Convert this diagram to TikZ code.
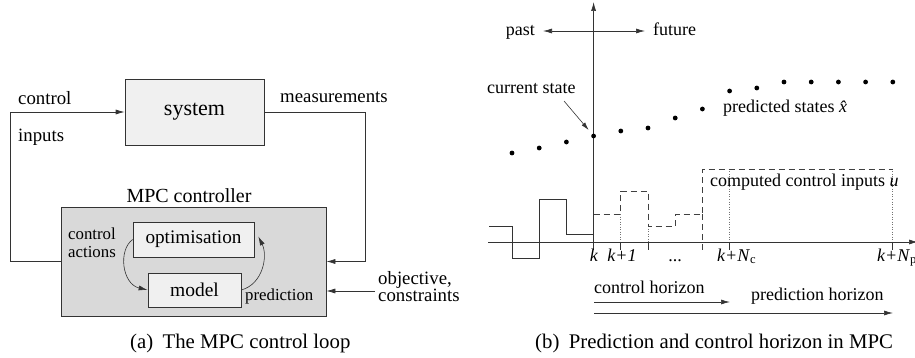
\documentclass[tikz,border=0pt]{standalone}
\usepackage{fontspec}
\setmainfont{Liberation Serif}
\usetikzlibrary{arrows.meta,calc}
\newcommand{\fs}[1]{\fontsize{#1}{#1}\selectfont}
\tikzset{
  ln/.style={draw=black!80, line width=0.7pt},
  arr/.style={ln, -{Latex[length=9pt,width=5pt]}},
  boxlight/.style={ln, fill=black!6, inner sep=0pt},
  boxdark/.style={ln, fill=black!15, inner sep=0pt},
  lbl/.style={inner sep=0pt, anchor=base west},
  dsh/.style={draw=black!75, line width=0.7pt, dash pattern=on 6pt off 4pt},
  dot/.style={draw=black!55, line width=0.7pt, dash pattern=on 1pt off 1.5pt},
  pt/.style={fill=black, circle, inner sep=0pt, minimum size=4.8pt},
}
\begin{document}
\begin{tikzpicture}[x=1pt,y=-1pt]
\useasboundingbox (0,0) rectangle (915,358);
% ---------------- left: MPC loop ----------------
\node[boxlight, minimum width=139pt, minimum height=66pt] (sys) at (194.5,112) {\fs{22}system};
\node[boxdark, minimum width=265pt, minimum height=109pt] (ctrl) at (193.5,261.5) {};
\node[boxlight, minimum width=121pt, minimum height=35pt] (opt) at (193.5,239.5) {\fs{19.2}optimisation};
\node[boxlight, minimum width=93pt, minimum height=34pt] (model) at (194.5,290) {\fs{19.5}model};
\node[lbl, anchor=base] (mpcl) at (189,203) {\fs{20}MPC controller};
\node[lbl] (ctl1) at (18,105) {\fs{18.8}control};
\node[lbl] (ctl2) at (18,142) {\fs{18.8}inputs};
\node[lbl] (meas) at (280,103) {\fs{18.8}measurements};
\node[inner sep=0pt, anchor=base west, align=left,
      font={\fontsize{16.8}{18}\selectfont}] (ca) at (68,257) {control\\actions};
\node[lbl] (pred) at (245,300) {\fs{16.8}prediction};
\node[inner sep=0pt, anchor=base west, align=left,
      font={\fontsize{18.8}{15.5}\selectfont}] (obj) at (378,301.5) {objective,\\constraints};
\coordinate (objin) at (375,291);
\draw[arr] (ctrl.west) -- ++(-50,0) |- (sys.west);
\draw[arr] (sys.east) -- ++(101,0) |- (ctrl.east);
\draw[arr] (objin) -- (objin -| ctrl.east);
\draw[arr, line width=0.6pt] (opt.west) .. controls (118,250) and (122,284) .. (model.west);
\draw[arr, line width=0.6pt] (model.east) .. controls (263,284) and (268,256) .. ($(opt.east)+(4,-3)$);
% ---------------- right: horizons ----------------
% past inputs
\draw[ln] (489,226) -- (512.8,226) -- (512.8,258) -- (539.2,258) -- (539.2,199) -- (566.4,199) -- (566.4,234) -- (593.6,234);
% dotted verticals
\draw[dot] (620.8,214) -- (620.8,242);
\draw[dot] (648,226) -- (648,242);
\draw[dot] (729.6,169) -- (729.6,242);
\draw[dot] (892.8,169) -- (892.8,242);
% computed inputs (dashed)
\draw[dsh] (593.6,214) -- (620.8,214) -- (620.8,191) -- (648,191) -- (648,226) -- (675.2,226) -- (675.2,214) -- (702.4,214) -- (702.4,169) -- (892.8,169);
\draw[dsh] (702.4,214) -- (702.4,250);
% axes
\draw[ln, -{Latex[length=9pt,width=5pt]}] (488,242) -- (918,242);
\draw[ln, -{Latex[length=9pt,width=5pt]}] (593.6,250) -- (593.6,2);
\foreach \xx in {620.8,648,729.6,892.8} \draw[ln] (\xx,242) -- (\xx,250);
\draw[ln, {Latex[length=9pt,width=5pt]}-{Latex[length=9pt,width=5pt]}] (543,31) -- (645,31);
\node[lbl, anchor=base east] (past) at (535,36) {\fs{18}past};
\node[lbl] (fut) at (653,36) {\fs{18}future};
% predicted states
\foreach \i/\yy in {0/153,1/148,2/142,3/136,4/131,5/128,6/118,7/109,8/91,9/88,10/82,11/82,12/82,13/82,14/82}
  \node[pt] (d\i) at ({512+27.2*\i},\yy) {};
\node[lbl] (cur) at (487,94) {\fs{18}current state};
\coordinate (curtail) at (564,101);
\draw[ln, line width=0.6pt, -{Latex[length=8pt,width=4.5pt]}] (curtail) -- ($(d3)+(-5,-6)$);
\node[lbl] (pst) at (723,113) {\fs{18}predicted states \textit{\^{x}}};
\node[lbl] (cci) at (710,187) {\fs{18}computed control inputs \textit{u}};
% tick labels
\node[lbl, anchor=base] (lk) at (594,261) {\fs{18}\textit{k}};
\node[lbl, anchor=base] (lk1) at (622,261) {\fs{18}\textit{k+1}};
\node[lbl, anchor=base] (ldots) at (675,261) {\fs{18}...};
\node[lbl] (lknc) at (717,261) {\fs{18}\textit{k+N}\textsubscript{c}};
\node[lbl] (lknp) at (877,261) {\fs{18}\textit{k+N}\textsubscript{p}};
% horizons
\node[lbl] (chl) at (594,293) {\fs{18}control horizon};
\node[lbl] (phl) at (751,300) {\fs{18}prediction horizon};
\coordinate (hz0) at (594,302);
\coordinate (hz1) at (730,302);
\coordinate (hp0) at (594,313);
\coordinate (hp1) at (893,313);
\draw[arr] (hz0) -- (hz1);
\draw[arr] (hp0) -- (hp1);
% captions
\node[lbl] (capa) at (130,348) {\fs{20.8}(a)\hspace{0.45em}The MPC control loop};
\node[lbl] (capb) at (535,348) {\fs{20.8}(b)\hspace{0.45em}Prediction and control horizon in MPC};
\end{tikzpicture}
\end{document}
